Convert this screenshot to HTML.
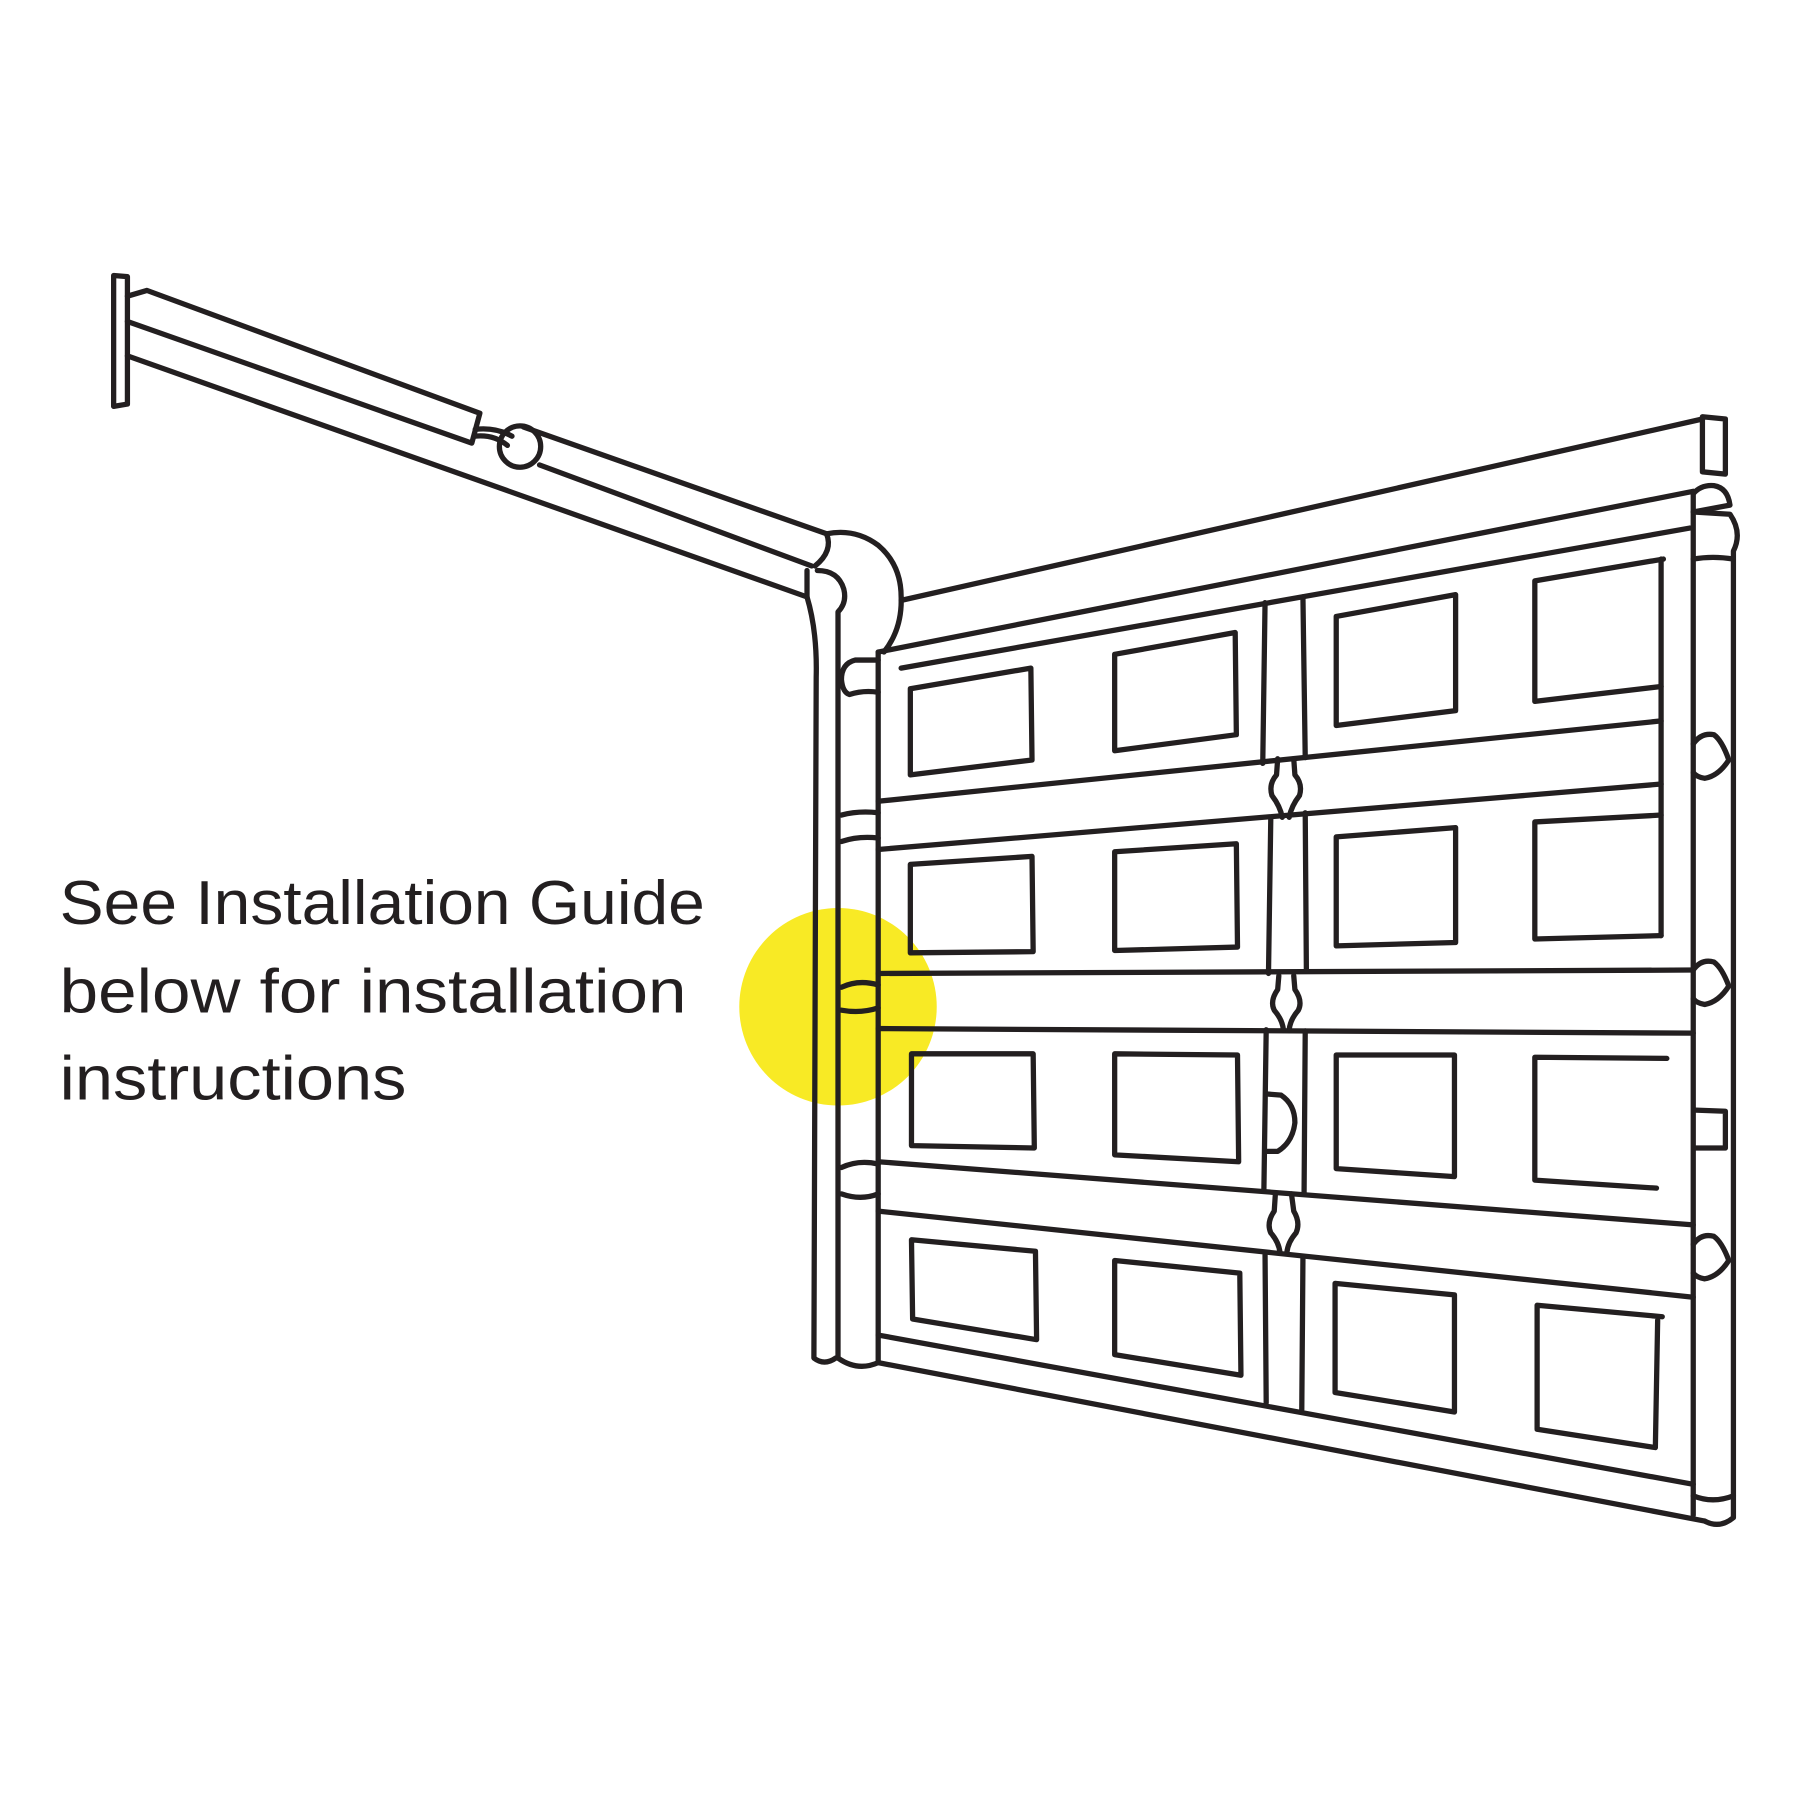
<!DOCTYPE html>
<html><head><meta charset="utf-8"><style>html,body{margin:0;padding:0;background:#fff}svg{display:block}</style></head><body>
<svg width="1800" height="1800" viewBox="0 0 1568 1568" xmlns="http://www.w3.org/2000/svg">
<rect width="1568" height="1568" fill="#fff"/>
<circle cx="730" cy="877" r="86" fill="#f8ea25"/>
<g fill="none" stroke="#231f20" stroke-width="4.6" stroke-linejoin="round" stroke-linecap="round">
<path d="M99,240 L111,241 L111,352 L99,354 Z"/>
<path d="M111,258 L128,253 L418,360 L411,386 L111,280"/>
<path d="M111,310 L703,520"/>
<path d="M414,374 Q432,372 446,380 M413,380 Q430,378 442,388"/>
<circle cx="453" cy="389" r="18"/>
<path d="M456,372 L720,465 M470,405 L707,493"/>
<path d="M720,465 Q726,480 710,493"/>
<path d="M720,465 Q745,460 765,475 Q785,492 785,520 Q786,548 770,568"/>
<path d="M703,497 L703,520 Q712,550 711,590 L709,1183 Q718,1190 728,1183"/>
<path d="M712,497 Q730,497 735,513 Q738,525 730,533 L730,1183 Q747,1195 765,1187"/>
<path d="M765,575 L745,575 Q733,578 733,592 Q734,603 740,605 Q752,601 765,603"/>
<path d="M733,710 Q748,706 765,708 M733,733 Q748,728 765,730"/>
<path d="M733,860 Q748,853 765,858 M733,880 Q750,883 765,878"/>
<path d="M733,1017 Q748,1010 765,1014 M733,1040 Q750,1046 765,1040"/>
<path d="M785,523 L1483,365"/>
<path d="M1483,363 L1503,365 L1503,413 L1483,411 Z"/>
<path d="M765,568 L1475,428"/>
<path d="M785,582 L1472,460"/>
<path d="M765,568 L765,1187"/>
<path d="M765,1187 L1485,1325"/>
<path d="M765,1163 L1475,1293"/>
<path d="M1475,430 L1475,1320"/>
<path d="M1475,430 Q1482,422 1493,423 Q1505,425 1507,440 L1475,446"/>
<path d="M1475,446 L1507,448 Q1518,464 1510,480 L1510,1322 Q1498,1332 1485,1325"/>
<path d="M1475,487 Q1492,484 1510,487"/>
<path d="M1475,1303 Q1492,1310 1510,1303"/>
<path d="M1447,487 L1447,815"/>
<path d="M765,698 L1447,628"/>
<path d="M765,740 L1447,683"/>
<path d="M765,848 L1475,845"/>
<path d="M765,896 L1475,900"/>
<path d="M765,1012 L1475,1067"/>
<path d="M765,1055 L1475,1130"/>
<path d="M1102,525 L1100,665 M1135,520 L1137,660"/>
<path d="M1107,712 L1105,848 M1137,708 L1138,846"/>
<path d="M1103,897 L1101,1036 M1137,898 L1136,1039"/>
<path d="M1102,1093 L1103,1222 M1135,1096 L1134,1228"/>
<path d="M1113,661 L1112,675 Q1105,683 1108,693 Q1115,702 1117,712 M1127,661 L1128,675 Q1135,683 1132,693 Q1125,702 1123,712"/>
<path d="M1114,850 L1113,862 Q1106,872 1110,880 Q1117,888 1118,897 M1127,850 L1128,862 Q1135,872 1131,880 Q1124,888 1123,897"/>
<path d="M1111,1040 L1110,1055 Q1103,1065 1107,1074 Q1114,1082 1115,1091 M1125,1040 L1127,1055 Q1133,1065 1129,1074 Q1122,1082 1121,1091"/>
<path d="M1104,953 L1116,954 Q1128,962 1128,978 Q1126,995 1113,1003 L1104,1003"/>
<path d="M1475,648 Q1482,638 1493,640 Q1500,645 1506,662 Q1497,676 1485,678 Q1478,677 1475,673"/>
<path d="M1475,845 Q1482,835 1493,838 Q1500,843 1506,859 Q1497,873 1485,875 Q1478,874 1475,870"/>
<path d="M1475,1084 Q1482,1074 1493,1077 Q1500,1082 1506,1098 Q1497,1112 1485,1114 Q1478,1113 1475,1109"/>
<path d="M1477,967 L1503,968 L1503,1000 L1477,1000"/>
<path d="M793,600 L898,582 L899,662 L793,675 Z"/>
<path d="M971,570 L1076,551 L1077,640 L971,654 Z"/>
<path d="M1164,537 L1268,518 L1268,619 L1164,632 Z"/>
<path d="M1337,506 L1449,487 M1447,598 L1337,611 L1337,506"/>
<path d="M793,753 L899,746 L900,829 L793,830 Z"/>
<path d="M971,742 L1077,735 L1078,825 L971,828 Z"/>
<path d="M1164,729 L1268,721 L1268,821 L1164,824 Z"/>
<path d="M1447,710 L1337,716 L1337,818 L1447,815"/>
<path d="M794,918 L900,918 L901,1000 L794,998 Z"/>
<path d="M971,918 L1078,919 L1079,1012 L971,1006 Z"/>
<path d="M1164,919 L1267,919 L1267,1025 L1164,1018 Z"/>
<path d="M1452,922 L1337,921 L1337,1028 L1443,1035"/>
<path d="M794,1080 L902,1090 L903,1167 L795,1149 Z"/>
<path d="M971,1098 L1080,1109 L1081,1198 L971,1180 Z"/>
<path d="M1163,1118 L1267,1128 L1267,1230 L1163,1213 Z"/>
<path d="M1448,1147 L1339,1137 L1339,1245 L1442,1261 L1444,1150"/>
</g>
<g font-family="'Liberation Sans', sans-serif" font-size="54" fill="#231f20">
<text x="52" y="805" textLength="562" lengthAdjust="spacingAndGlyphs">See Installation Guide</text>
<text x="52" y="882" textLength="546" lengthAdjust="spacingAndGlyphs">below for installation</text>
<text x="52" y="958" textLength="302" lengthAdjust="spacingAndGlyphs">instructions</text>
</g>
</svg>
</body></html>
